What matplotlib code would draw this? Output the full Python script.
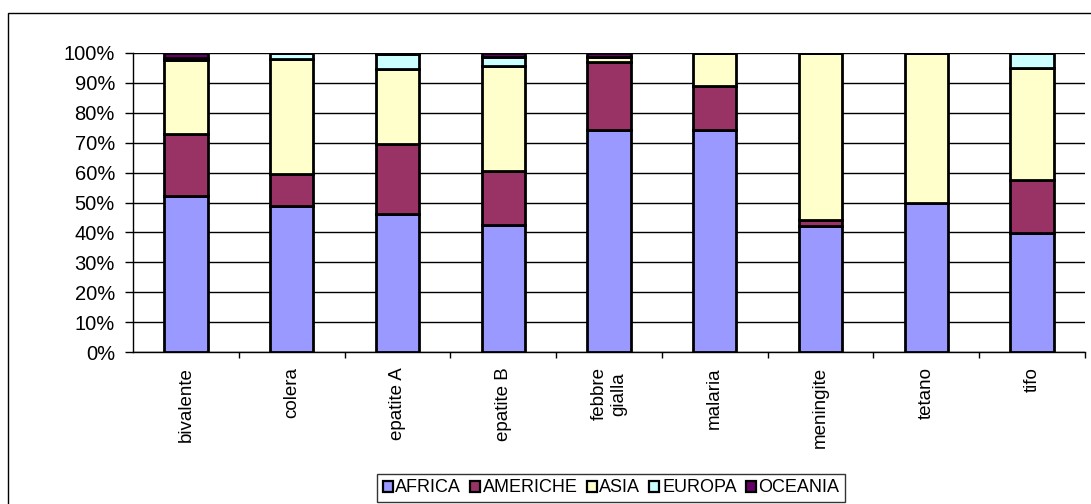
import matplotlib.pyplot as plt
import numpy as np
from matplotlib.patches import Rectangle
from matplotlib.ticker import FixedLocator, PercentFormatter

plt.rcParams['font.family'] = ['Liberation Sans', 'DejaVu Sans']

# vaccine categories and share by continent (%)
categories = ['bivalente', 'colera', 'epatite A', 'epatite B', 'febbre\ngialla',
              'malaria', 'meningite', 'tetano', 'tifo']
africa   = [52.3, 48.9, 46.2, 42.5, 74.2, 74.2, 42.0, 50.0, 39.8]
americhe = [20.7, 10.7, 23.2, 18.0, 22.7, 14.6,  2.2,  0.0, 17.6]
asia     = [24.5, 38.5, 25.3, 35.0,  1.7, 11.2, 55.8, 50.0, 37.6]
europa   = [ 0.8,  1.9,  4.8,  3.2,  0.2,  0.0,  0.0,  0.0,  5.0]
oceania  = [ 1.7,  0.0,  0.5,  1.3,  1.2,  0.0,  0.0,  0.0,  0.0]

series = [('AFRICA', africa, '#9999FF'),
          ('AMERICHE', americhe, '#993366'),
          ('ASIA', asia, '#FFFFCC'),
          ('EUROPA', europa, '#CCFFFF'),
          ('OCEANIA', oceania, '#660066')]

fig = plt.figure(figsize=(10.91, 5.04), dpi=100)
ax = fig.add_axes([133 / 1091, 1 - 352 / 504, 952 / 1091, 299 / 504])

# outer chart frame
fig.patches.append(Rectangle((8 / 1091, -0.2), 1.2, 1.2 - 13 / 504,
                             transform=fig.transFigure, fill=False,
                             edgecolor='black', linewidth=1.0))

x = np.arange(len(categories))
bottom = np.zeros(len(categories))
for name, vals, col in series:
    vals = np.array(vals)
    ax.bar(x, vals, 0.41, bottom=bottom, color=col, edgecolor='black',
           linewidth=2.0, label=name, zorder=3)
    bottom += vals

ax.set_xlim(-0.5, len(categories) - 0.5)
ax.set_ylim(0, 100)
ax.set_yticks(np.arange(0, 101, 10))
ax.yaxis.set_major_formatter(PercentFormatter(decimals=0))
ax.yaxis.grid(True, color='black', linewidth=1.0, zorder=0)
ax.tick_params(axis='y', direction='out', length=6, width=1, pad=7, labelsize=14.5)

ax.set_xticks(x)
ax.set_xticklabels(categories, rotation=90, va='top', ha='center',
                   multialignment='center', fontsize=13.5)
ax.tick_params(axis='x', which='major', length=0, pad=11)
ax.xaxis.set_minor_locator(FixedLocator(np.arange(0.5, len(categories), 1.0)))
ax.tick_params(axis='x', which='minor', direction='out', length=4, width=1)

for s in ['top', 'right']:
    ax.spines[s].set_visible(False)
for s in ['left', 'bottom']:
    ax.spines[s].set_color('black')
    ax.spines[s].set_linewidth(1.0)

leg = fig.legend(loc='center', bbox_to_anchor=(611 / 1091, 1 - 488 / 504),
                 ncol=5, fontsize=13, frameon=True, fancybox=False,
                 handlelength=0.55, handleheight=0.55, handletextpad=0.15,
                 columnspacing=0.5, borderpad=0.3, borderaxespad=0,
                 edgecolor='black')
leg.get_frame().set_linewidth(1.0)
for h in leg.legend_handles:
    h.set_linewidth(1.6)

fig.savefig('out.png', dpi=100)
